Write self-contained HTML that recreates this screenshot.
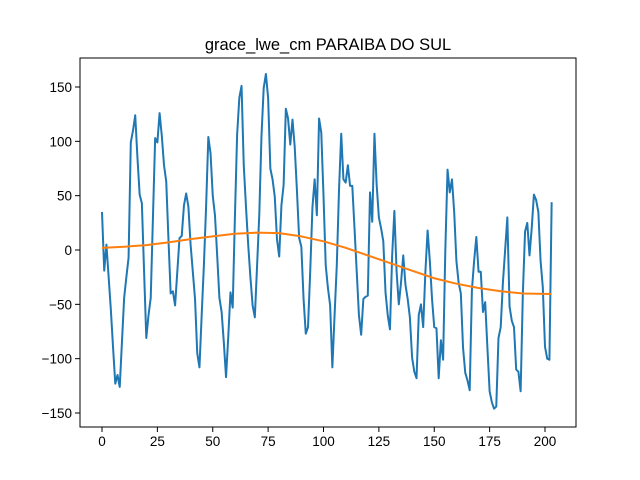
<!DOCTYPE html>
<html><head><meta charset="utf-8"><style>body{margin:0;background:#fff}svg{display:block}text{font-family:"Liberation Sans","DejaVu Sans",sans-serif}</style></head>
<body>
<svg id="chart" width="640" height="480">
<rect width="640" height="480" fill="#fff"/>
<text x="328" y="50" font-size="16.5" text-anchor="middle">grace_lwe_cm PARAIBA DO SUL</text>
<g id="axes"></g>
<g id="series"></g>
<rect x="80" y="58" width="496" height="369" fill="none" stroke="#000" stroke-width="1"/>
</svg>
<script>
const xTicks=[0,25,50,75,100,125,150,175,200];
const yTicks=[-150,-100,-50,0,50,100,150];
const gwValues=[35,-19,5,-25,-55,-90,-123,-115,-126,-85,-44,-25,-7,99,110,124,85,51,43,-20,-81,-60,-44,30,103,99,126,105,78,63,10,-40,-38,-51,-20,11,13,41,52,40,5,-20,-45,-95,-108,-60,-14,40,104,89,50,32,-5,-44,-57,-85,-117,-80,-39,-53,30,106,140,151,78,40,5,-25,-51,-62,-15,32,105,149,162,140,75,65,49,10,-6,41,60,130,121,97,120,95,55,11,3,-45,-77,-71,-20,39,65,32,121,108,50,-14,-35,-51,-108,-60,-14,55,107,65,62,78,59,59,20,-20,-60,-78,-45,-43,-42,53,26,107,60,30,20,8,-39,-60,-73,-5,36,-20,-50,-30,-5,-32,-45,-62,-99,-112,-118,-60,-50,-71,-20,18,-10,-45,-71,-72,-118,-83,-101,0,74,53,65,35,-10,-30,-40,-90,-113,-120,-129,-37,-10,12,-20,-20,-57,-48,-90,-130,-140,-146,-144,-81,-71,-30,0,30,-52,-65,-71,-110,-112,-130,-40,17,25,-5,20,51,46,35,-10,-34,-89,-100,-101,44];
const trendIdx=[0,10,20,30,40,50,60,70,80,90,100,110,120,130,140,150,160,170,180,190,203];
const trendValues=[2,3,4.5,7,10,12.5,15,16,15.5,12.5,8,2,-5,-12,-19,-26,-31,-35,-38,-40,-40.5];
const NS="http://www.w3.org/2000/svg";
const xs=v=>102+v*2.215;
const ys=v=>250-v*1.0867;
const axes=document.getElementById('axes');
const series=document.getElementById('series');
function mk(tag,attrs,parent){const e=document.createElementNS(NS,tag);for(const k in attrs)e.setAttribute(k,attrs[k]);parent.appendChild(e);return e;}
xTicks.forEach(t=>{
 const l=mk('line',{x1:xs(t),x2:xs(t),y1:427,y2:432,stroke:'#000'},axes);
 
 
 const tx=mk('text',{x:xs(t),y:446,'font-size':13.5,'text-anchor':'middle'},axes);
 tx.textContent=t;
 
 
});
yTicks.forEach(t=>{
 const l=mk('line',{x1:75,x2:80,y1:ys(t),y2:ys(t),stroke:'#000'},axes);
 
 
 const tx=mk('text',{x:72,y:ys(t)+5,'font-size':13.5,'text-anchor':'end'},axes);
 tx.textContent=t<0?'\u2212'+(-t):t;
 
 
});
const p1=mk('polyline',{points:gwValues.map((v,i)=>xs(i)+','+ys(v)).join(' '),fill:'none',stroke:'#1f77b4','stroke-width':2,'stroke-linejoin':'round'},series);


const p2=mk('polyline',{points:trendValues.map((v,i)=>xs(trendIdx[i])+','+ys(v)).join(' '),fill:'none',stroke:'#ff7f0e','stroke-width':2,'stroke-linejoin':'round'},series);


</script>
</body></html>
